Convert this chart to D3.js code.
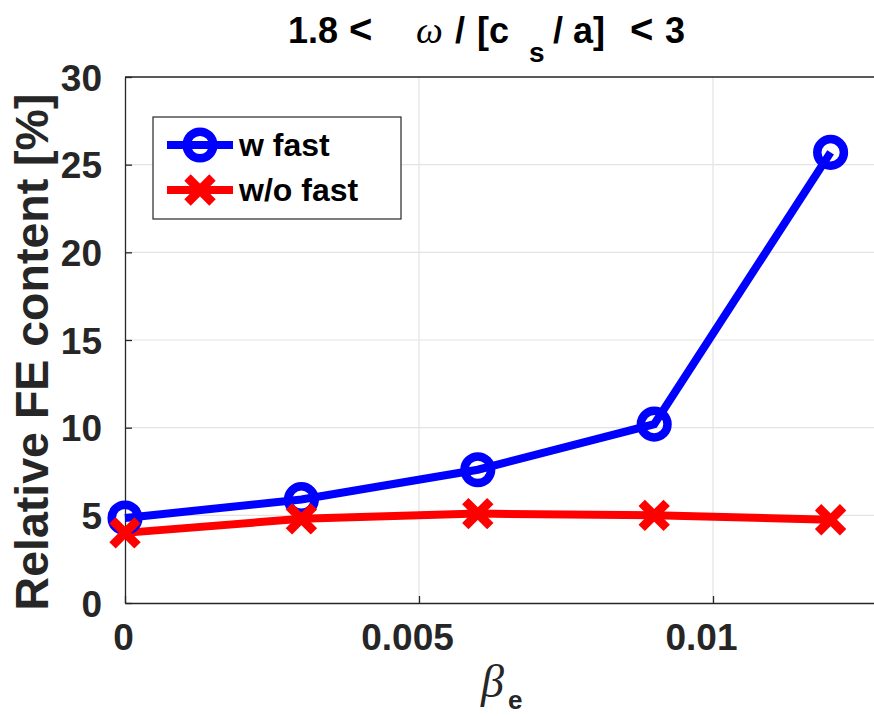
<!DOCTYPE html>
<html><head><meta charset="utf-8">
<script src="https://cdn.jsdelivr.net/npm/d3@7"></script>
<style>body{margin:0;background:#fff;} text{font-family:"Liberation Sans",Arial,sans-serif;}</style>
</head><body>
<svg id="c" width="874" height="716"></svg>
<script>
const betaE = [0, 0.003, 0.006, 0.009, 0.012];
const wFast = [4.85, 5.9, 7.6, 10.2, 25.7];
const woFast = [4.0, 4.8, 5.1, 5.0, 4.75];
const xTicks = [0, 0.005, 0.01];
const xTickLabels = ["0", "0.005", "0.01"];
const yTicks = [0, 5, 10, 15, 20, 25, 30];
const seriesNames = ["w fast", "w/o fast"];

const svg = d3.select("#c");
const L = 125, T = 77, B = 603;
const x = d3.scaleLinear().domain([0, 0.013]).range([L, L + 0.013 / 0.01 * (713 - L)]);
const y = d3.scaleLinear().domain([0, 30]).range([B, T]);
const R = 874;
const axisCol = "#262626";
const FONT = "Liberation Sans, Arial, sans-serif";

// grid
const g = svg.append("g");
g.selectAll(".gx").data(xTicks.slice(1)).enter().append("line")
  .attr("x1", d => x(d)).attr("x2", d => x(d)).attr("y1", T).attr("y2", B)
  .attr("stroke", "#e3e3e3").attr("stroke-width", 1.2);
g.selectAll(".gy").data(yTicks.slice(1)).enter().append("line")
  .attr("x1", L).attr("x2", R).attr("y1", d => y(d)).attr("y2", d => y(d))
  .attr("stroke", "#e3e3e3").attr("stroke-width", 1.2);

// axes
const xa = svg.append("g").attr("transform", `translate(0,${B})`)
  .call(d3.axisBottom(x).tickValues(xTicks).tickFormat((d, i) => xTickLabels[i]).tickSizeInner(-7).tickSizeOuter(0).tickPadding(21));
const ya = svg.append("g").attr("transform", `translate(${L},0)`)
  .call(d3.axisLeft(y).tickValues(yTicks).tickSizeInner(-7).tickSizeOuter(0).tickPadding(23));
[xa, ya].forEach(a => {
  a.select(".domain").attr("stroke", axisCol).attr("stroke-width", 1.3);
  a.selectAll(".tick line").attr("stroke", axisCol).attr("stroke-width", 1.3);
  a.selectAll(".tick text").attr("fill", axisCol).attr("font-weight", "bold")
    .style("font-family", FONT);
});
ya.selectAll(".tick text").style("font-size", "37px").attr("dy", "0.36em");
xa.selectAll(".tick text").style("font-size", "37px").attr("dy", "0.71em")
  .attr("dx", (d, i) => i === 0 ? -2 : -12);
// top border
svg.append("line").attr("x1", L).attr("x2", R).attr("y1", T).attr("y2", T).attr("stroke", axisCol).attr("stroke-width", 1.3);

// lines
const line = d3.line().x((d, i) => x(betaE[i])).y(d => y(d));
svg.append("path").datum(wFast).attr("d", line).attr("fill", "none").attr("stroke", "#0000ff").attr("stroke-width", 8);
svg.append("path").datum(woFast).attr("d", line).attr("fill", "none").attr("stroke", "#ff0000").attr("stroke-width", 8);

function circleMarker(sel, cx, cy) {
  sel.append("circle").attr("cx", cx).attr("cy", cy).attr("r", 13.3).attr("fill", "none").attr("stroke", "#0000ff").attr("stroke-width", 8.5);
}
function crossMarker(sel, cx, cy) {
  const s = 12.5;
  sel.append("path").attr("d", `M${cx - s},${cy - s}L${cx + s},${cy + s}M${cx - s},${cy + s}L${cx + s},${cy - s}`)
    .attr("stroke", "#ff0000").attr("stroke-width", 9).attr("fill", "none");
}
wFast.forEach((v, i) => circleMarker(svg, x(betaE[i]), y(v)));
woFast.forEach((v, i) => crossMarker(svg, x(betaE[i]), y(v)));

// legend
const lg = svg.append("g");
lg.append("rect").attr("x", 153).attr("y", 117).attr("width", 248).attr("height", 102)
  .attr("fill", "#fff").attr("stroke", axisCol).attr("stroke-width", 1.2);
const ly = [145, 190];
lg.append("line").attr("x1", 167).attr("x2", 233).attr("y1", ly[0]).attr("y2", ly[0]).attr("stroke", "#0000ff").attr("stroke-width", 8);
circleMarker(lg, 200, ly[0]);
lg.append("line").attr("x1", 167).attr("x2", 233).attr("y1", ly[1]).attr("y2", ly[1]).attr("stroke", "#ff0000").attr("stroke-width", 8);
crossMarker(lg, 200, ly[1]);
seriesNames.forEach((n, i) => lg.append("text").attr("x", 239).attr("y", ly[i] + 11).style("font-size", "32px")
  .attr("font-weight", "bold").attr("fill", "#000").text(n));

// title pieces
const titleParts = [
  { t: "1.8", x: 288 }, { t: "<", x: 349 }, { t: "ω", x: 416, it: true }, { t: "/", x: 455 },
  { t: "[c", x: 477 }, { t: "s", x: 529, sub: true }, { t: "/", x: 553 }, { t: "a]", x: 573 },
  { t: "<", x: 630 }, { t: "3", x: 665 }
];
const tg = svg.append("g");
titleParts.forEach(p => {
  const el = tg.append("text").attr("x", p.x).attr("y", p.sub ? 62 : 43).attr("fill", "#000").text(p.t);
  if (p.it) el.style("font-family", "Liberation Serif, serif").attr("font-style", "italic").style("font-size", "38px");
  else el.attr("font-weight", "bold").style("font-size", p.t === "<" ? "40px" : (p.sub ? "28px" : "36px"));
});

// x label
svg.append("text").attr("x", 481).attr("y", 697).style("font-family", "Liberation Serif, serif")
  .attr("font-style", "italic").style("font-size", "46px").attr("fill", axisCol).text("β");
svg.append("text").attr("x", 508).attr("y", 709).style("font-size", "26px").attr("font-weight", "bold")
  .attr("fill", axisCol).text("e");

// y label
svg.append("text").attr("transform", "translate(48,352) rotate(-90)").attr("text-anchor", "middle")
  .style("font-size", "46.5px").attr("font-weight", "bold").attr("fill", axisCol).text("Relative FE content [%]");
</script>
</body></html>
